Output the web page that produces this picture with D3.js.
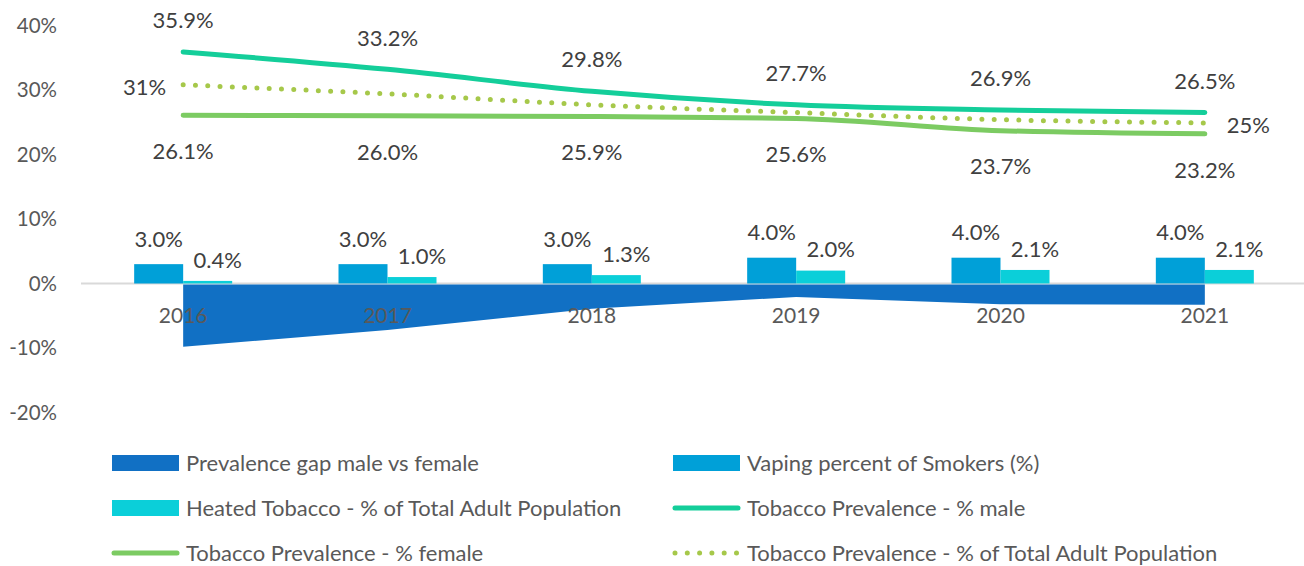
<script src="https://cdn.jsdelivr.net/npm/d3@7"></script>
<style>
  body { margin: 0; background: #fff; }
  text { font-family: Lato, "Open Sans", sans-serif; }
</style>
<svg width="1304" height="566"></svg>
<script>
  // data
  const years = ["2016", "2017", "2018", "2019", "2020", "2021"];
  const male = [35.9, 33.2, 29.8, 27.7, 26.9, 26.5];
  const female = [26.1, 26.0, 25.9, 25.6, 23.7, 23.2];
  const total = [30.8, 29.4, 27.7, 26.5, 25.4, 24.9];
  const totalLabels = ["31%", "", "", "", "", "25%"];
  const vaping = [3.0, 3.0, 3.0, 4.0, 4.0, 4.0];
  const heated = [0.4, 1.0, 1.3, 2.0, 2.1, 2.1];
  const gap = [-9.8, -7.2, -3.9, -2.1, -3.2, -3.3];
  const yTicks = [-20, -10, 0, 10, 20, 30, 40];

  const svg = d3.select("svg");
  const x = d3.scaleBand().domain(years).range([81, 1307]);
  const cx = (d) => x(d) + x.bandwidth() / 2;
  const y = d3.scaleLinear().domain([-20, 40]).range([412.5, 25.5]);
  const bw = 49;

  // y tick labels
  svg.append("g").selectAll("text").data(yTicks).join("text")
    .attr("x", 57).attr("y", (d) => y(d)).attr("dy", "0.35em")
    .attr("text-anchor", "end").attr("font-size", 20.5).attr("fill", "#595959")
    .text((d) => d + "%");

  // zero line
  svg.append("line").attr("x1", 81).attr("x2", 1304)
    .attr("y1", y(0)).attr("y2", y(0))
    .attr("stroke", "#d9d9d9").attr("stroke-width", 2);

  // gap area
  const area = d3.area().x((d, i) => cx(years[i])).y0(y(0) + 1).y1((d) => y(d));
  svg.append("path").datum(gap).attr("d", area).attr("fill", "#1170c4");

  // bars
  svg.append("g").selectAll("rect").data(vaping).join("rect")
    .attr("x", (d, i) => cx(years[i]) - bw).attr("width", bw)
    .attr("y", (d) => y(d)).attr("height", (d) => y(0) - y(d))
    .attr("fill", "#00a0d8");
  svg.append("g").selectAll("rect").data(heated).join("rect")
    .attr("x", (d, i) => cx(years[i])).attr("width", bw)
    .attr("y", (d) => y(d)).attr("height", (d) => y(0) - y(d))
    .attr("fill", "#0bcfd9");

  // category labels
  svg.append("g").selectAll("text").data(years).join("text")
    .attr("x", (d) => cx(d)).attr("y", y(0) + 32).attr("dy", "0.35em")
    .attr("text-anchor", "middle").attr("font-size", 21).attr("fill", "#595959")
    .text((d) => d);

  // lines
  const line = d3.line().x((d, i) => cx(years[i])).y((d) => y(d)).curve(d3.curveMonotoneX);
  svg.append("path").datum(female).attr("d", line).attr("fill", "none")
    .attr("stroke", "#7ccb62").attr("stroke-width", 5).attr("stroke-linecap", "round");
  svg.append("path").datum(male).attr("d", line).attr("fill", "none")
    .attr("stroke", "#14ce9a").attr("stroke-width", 5).attr("stroke-linecap", "round");
  svg.append("path").datum(total).attr("d", line).attr("fill", "none")
    .attr("stroke", "#a6c84a").attr("stroke-width", 5).attr("stroke-linecap", "round")
    .attr("stroke-dasharray", "0 12.3");

  // data labels
  const lab = svg.append("g").attr("font-size", 22).attr("fill", "#404040");
  lab.selectAll(".m").data(male).join("text")
    .attr("x", (d, i) => cx(years[i])).attr("y", (d) => y(d) - 31.5).attr("dy", "0.35em")
    .attr("text-anchor", "middle").text((d) => d.toFixed(1) + "%");
  lab.selectAll(".f").data(female).join("text")
    .attr("x", (d, i) => cx(years[i])).attr("y", (d) => y(d) + 36).attr("dy", "0.35em")
    .attr("text-anchor", "middle").text((d) => d.toFixed(1) + "%");
  lab.selectAll(".t").data(total).join("text")
    .attr("x", (d, i) => cx(years[i]) + (i === 0 ? -17 : 22))
    .attr("y", (d) => y(d) + 2).attr("dy", "0.35em")
    .attr("text-anchor", (d, i) => (i === 0 ? "end" : "start"))
    .text((d, i) => totalLabels[i]);
  lab.selectAll(".v").data(vaping).join("text")
    .attr("x", (d, i) => cx(years[i]) - bw / 2).attr("y", (d) => y(d) - 25).attr("dy", "0.35em")
    .attr("text-anchor", "middle").text((d) => d.toFixed(1) + "%");
  lab.selectAll(".h").data(heated).join("text")
    .attr("x", (d, i) => cx(years[i]) + bw / 2 + 10).attr("y", (d) => y(d) - 21).attr("dy", "0.35em")
    .attr("text-anchor", "middle").text((d) => d.toFixed(1) + "%");

  // legend
  const legendItems = [
    { name: "Prevalence gap male vs female", type: "rect", color: "#1170c4", col: 0, row: 0 },
    { name: "Vaping percent of Smokers (%)", type: "rect", color: "#00a0d8", col: 1, row: 0 },
    { name: "Heated Tobacco - % of Total Adult Population", type: "rect", color: "#0bcfd9", col: 0, row: 1 },
    { name: "Tobacco Prevalence - % male", type: "line", color: "#14ce9a", col: 1, row: 1 },
    { name: "Tobacco Prevalence - % female", type: "line", color: "#7ccb62", col: 0, row: 2 },
    { name: "Tobacco Prevalence - % of Total Adult Population", type: "dot", color: "#a6c84a", col: 1, row: 2 }
  ];
  const colX = [112, 673];
  const rowY = [463, 508, 553];
  const lg = svg.append("g").selectAll("g").data(legendItems).join("g")
    .attr("transform", (d) => `translate(${colX[d.col]},${rowY[d.row]})`);
  lg.filter((d) => d.type === "rect").append("rect")
    .attr("x", 0).attr("y", -8).attr("width", 67).attr("height", 16).attr("fill", (d) => d.color);
  lg.filter((d) => d.type !== "rect").append("line")
    .attr("x1", 2).attr("x2", 65).attr("y1", 0).attr("y2", 0)
    .attr("stroke", (d) => d.color).attr("stroke-width", 5)
    .attr("stroke-linecap", "round")
    .attr("stroke-dasharray", (d) => (d.type === "dot" ? "0 12.3" : null));
  lg.append("text").attr("x", 74).attr("y", 0).attr("dy", "0.35em")
    .attr("font-size", 22).attr("fill", "#595959").text((d) => d.name);
</script>
